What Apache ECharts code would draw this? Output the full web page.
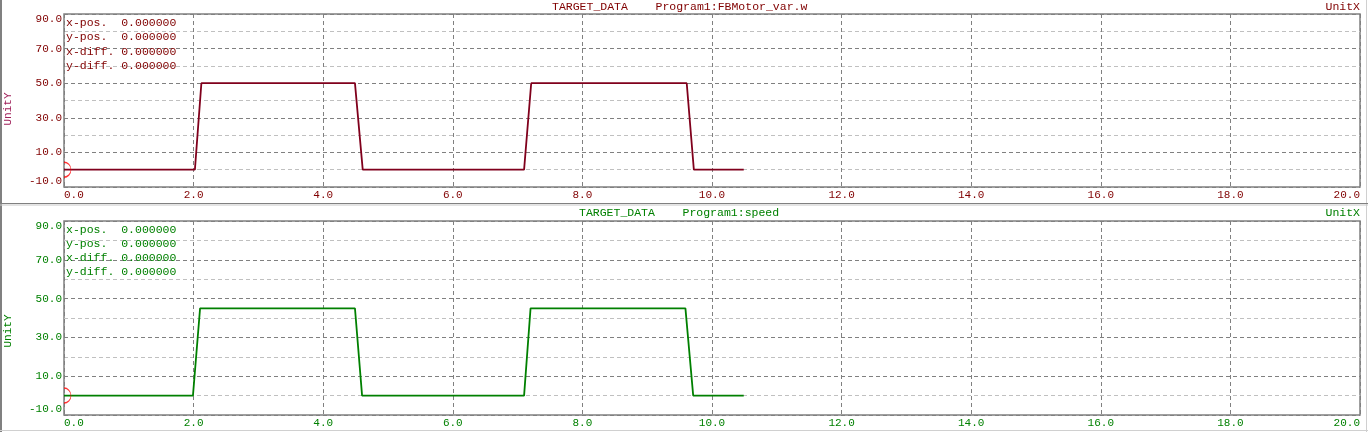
<!DOCTYPE html>
<html>
<head>
<meta charset="utf-8">
<script src="https://cdn.jsdelivr.net/npm/echarts@6/dist/echarts.min.js"></script>
<style>
html,body{margin:0;padding:0;background:#fff;}
#chart{width:1368px;height:432px;}
</style>
</head>
<body>
<div id="chart"></div>
<script>
// ---- data ----
const timeTop = [0, 2.02, 2.12, 4.49, 4.61, 7.10, 7.21, 9.61, 9.72, 10.49];
const valueTop = [0, 0, 50, 50, 0, 0, 50, 50, 0, 0];
const timeBottom = [0, 1.99, 2.10, 4.49, 4.60, 7.10, 7.20, 9.59, 9.71, 10.49];
const valueBottom = [0, 0, 45, 45, 0, 0, 45, 45, 0, 0];
const cursorPoint = [[0, 0]];
const titleTop = 'TARGET_DATA    Program1:FBMotor_var.w';
const titleBottom = 'TARGET_DATA    Program1:speed';
const unitX = 'UnitX';
const unitY = 'UnitY';
const cursorLines = ['x-pos.  0.000000', 'y-pos.  0.000000', 'x-diff. 0.000000', 'y-diff. 0.000000'];
const xMin = 0, xMax = 20, xStep = 2;
const yMin = -10, yMax = 90, yStep = 20;

const FONT = 'Liberation Mono';
const RED = '#800000';
const RED_LINE = '#80001c';
const GREEN = '#008000';

function pairs(xs, ys) { return xs.map((x, i) => [x, ys[i]]); }

function xAxisFor(idx, color) {
  return {
    type: 'value', gridIndex: idx, min: xMin, max: xMax, interval: xStep,
    axisLine: { show: false }, axisTick: { show: false },
    axisLabel: {
      color: color, fontFamily: FONT, fontSize: 11, margin: 3,
      formatter: v => v.toFixed(1),
      showMinLabel: true, showMaxLabel: true,
      alignMinLabel: 'left', alignMaxLabel: 'right'
    },
    splitLine: { show: true, lineStyle: { color: '#808080', width: 1, type: [4, 3] } }
  };
}
function yAxisFor(idx, color) {
  return {
    type: 'value', gridIndex: idx, min: yMin, max: yMax, interval: yStep,
    axisLine: { show: false }, axisTick: { show: false },
    axisLabel: {
      color: color, fontFamily: FONT, fontSize: 11, margin: 2,
      formatter: v => v.toFixed(1),
      showMinLabel: true, showMaxLabel: true,
      verticalAlignMinLabel: 'bottom', verticalAlignMaxLabel: 'top'
    },
    splitLine: { show: true, lineStyle: { color: '#808080', width: 1, type: [4, 3] } },
    minorTick: { show: false, splitNumber: 2 },
    minorSplitLine: { show: true, lineStyle: { color: '#c0c0c0', width: 1, type: [4, 3] } }
  };
}

const cursorSymbol = 'path://M0,0 A10,10 0 0,1 0,20';

function textEls(lines, x, y0, dy, color) {
  return lines.map((t, i) => ({
    type: 'text', x: x, y: y0 + i * dy, z: 50,
    style: { text: t, fill: color, font: '11.5px "' + FONT + '"', textVerticalAlign: 'middle' }
  }));
}

const chart = echarts.init(document.getElementById('chart'), null, { renderer: 'canvas' });
chart.setOption({
  animation: false,
  backgroundColor: '#ffffff',
  grid: [
    { left: 64, top: 14, right: 8, height: 173, show: true, borderColor: '#808080', borderWidth: 1.5, backgroundColor: 'transparent' },
    { left: 64, top: 221, right: 8, height: 194, show: true, borderColor: '#808080', borderWidth: 1.5, backgroundColor: 'transparent' }
  ],
  xAxis: [xAxisFor(0, RED), xAxisFor(1, GREEN)],
  yAxis: [yAxisFor(0, RED), yAxisFor(1, GREEN)],
  series: [
    { type: 'line', xAxisIndex: 0, yAxisIndex: 0, data: pairs(timeTop, valueTop), showSymbol: false, lineStyle: { color: RED_LINE, width: 1.8 }, z: 5 },
    { type: 'line', xAxisIndex: 1, yAxisIndex: 1, data: pairs(timeBottom, valueBottom), showSymbol: false, lineStyle: { color: GREEN, width: 1.8 }, z: 5 },
    { type: 'scatter', xAxisIndex: 0, yAxisIndex: 0, data: cursorPoint, symbol: cursorSymbol, symbolSize: [7, 15], symbolOffset: [3.5, 0], itemStyle: { color: 'transparent', borderColor: '#ff0000', borderWidth: 1 }, z: 10, silent: true },
    { type: 'scatter', xAxisIndex: 1, yAxisIndex: 1, data: cursorPoint, symbol: cursorSymbol, symbolSize: [7, 15], symbolOffset: [3.5, 0], itemStyle: { color: 'transparent', borderColor: '#ff0000', borderWidth: 1 }, z: 10, silent: true }
  ],
  graphic: [
    // frame
    { type: 'line', shape: { x1: 1, y1: 0, x2: 1, y2: 432 }, style: { stroke: '#808080', lineWidth: 2 } },
    { type: 'line', shape: { x1: 1366.5, y1: 0, x2: 1366.5, y2: 432 }, style: { stroke: '#d0d0d0', lineWidth: 1 } },
    { type: 'line', shape: { x1: 0, y1: 203.5, x2: 1368, y2: 203.5 }, style: { stroke: '#808080', lineWidth: 1 } },
    { type: 'line', shape: { x1: 0, y1: 205, x2: 1368, y2: 205 }, style: { stroke: '#c8c8c8', lineWidth: 1 } },
    { type: 'line', shape: { x1: 0, y1: 430.5, x2: 1368, y2: 430.5 }, style: { stroke: '#d0d0d0', lineWidth: 1 } },
    // titles
    { type: 'text', x: 552, y: 7, style: { text: titleTop, fill: RED, font: '11.5px "' + FONT + '"', textVerticalAlign: 'middle' } },
    { type: 'text', x: 579, y: 213, style: { text: titleBottom, fill: GREEN, font: '11.5px "' + FONT + '"', textVerticalAlign: 'middle' } },
    { type: 'text', x: 1360, y: 7, style: { text: unitX, fill: RED, font: '11.5px "' + FONT + '"', textAlign: 'right', textVerticalAlign: 'middle' } },
    { type: 'text', x: 1360, y: 213, style: { text: unitX, fill: GREEN, font: '11.5px "' + FONT + '"', textAlign: 'right', textVerticalAlign: 'middle' } },
    { type: 'text', x: 8, y: 109, rotation: Math.PI / 2, style: { text: unitY, fill: '#a0205a', font: '11px "' + FONT + '"', textAlign: 'center', textVerticalAlign: 'middle' } },
    { type: 'text', x: 8, y: 331, rotation: Math.PI / 2, style: { text: unitY, fill: GREEN, font: '11px "' + FONT + '"', textAlign: 'center', textVerticalAlign: 'middle' } }
  ].concat(textEls(cursorLines, 66, 23, 14.3, RED)).concat(textEls(cursorLines, 66, 229.5, 14, GREEN))
});
</script>
</body>
</html>
